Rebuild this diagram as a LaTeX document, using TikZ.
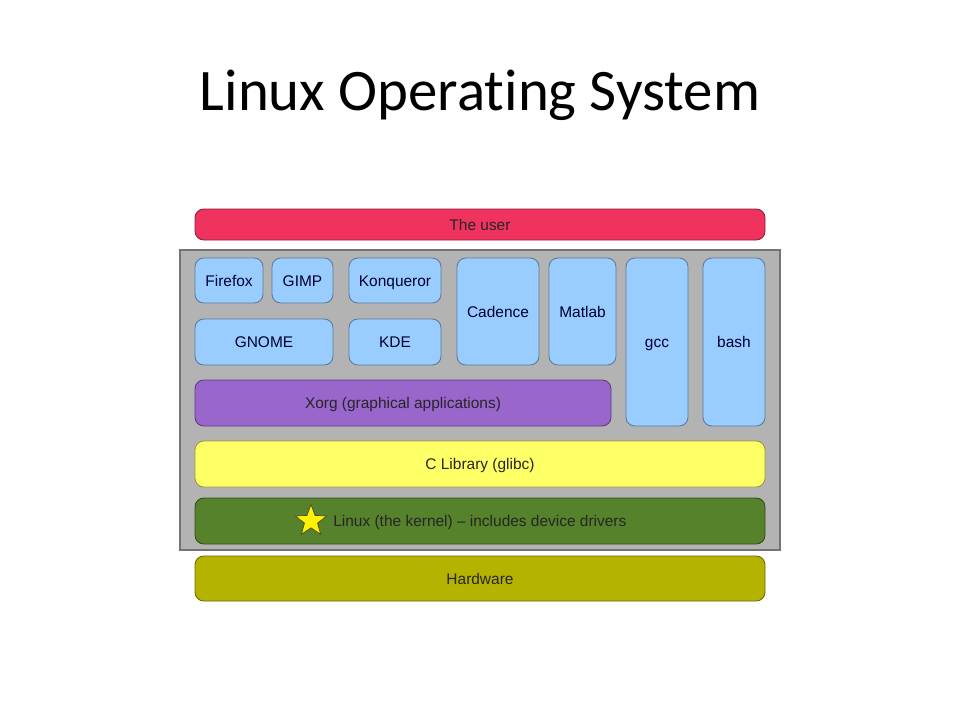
\documentclass[tikz,border=0pt]{standalone}
\usepackage{fontspec}
\setmainfont{Liberation Sans}
\newfontfamily\titlefont[RawFeature=-liga]{Carlito}
\usetikzlibrary{shapes.geometric}
\definecolor{userred}{HTML}{F0325E}
\definecolor{appblue}{HTML}{99CCFF}
\definecolor{xpurple}{HTML}{9966CC}
\definecolor{libyellow}{HTML}{FFFF66}
\definecolor{kerngreen}{HTML}{55822A}
\definecolor{hwolive}{HTML}{B3B300}
\definecolor{panelgray}{HTML}{B3B3B3}
\tikzset{
  layer/.style={draw=#1!60!black, fill=#1, rounded corners=5pt, inner sep=0pt, line width=0.5pt,
    font=\fontsize{8.8}{10}\selectfont, text=black!85, text height=7.6pt, text depth=1.3pt},
  app/.style={layer=appblue, text=black!80!blue},
  size/.style 2 args={minimum width=#1*0.02cm, minimum height=#2*0.02cm},
}

\begin{document}
\begin{tikzpicture}[x=0.02cm, y=-0.02cm]
		%%%%% START %%%%%
		\useasboundingbox[fill=white] (0,0) rectangle (960,720);
		\node[font=\titlefont\fontsize{33.5}{40}\selectfont] (title) at (480,95) {Linux Operating System};
		
		\node[layer=userred, size={570}{31}] (user) at (480,224.5) {The user};
		
		\draw[draw=black!55, fill=panelgray, line width=0.6pt] (180,250) rectangle (780,550);
		
		\node[app, size={68}{45}] (firefox) at (229,280.5) {Firefox};
		\node[app, size={61}{45}] (gimp) at (302.5,280.5) {GIMP};
		\node[app, size={92}{45}] (konqueror) at (395,280.5) {Konqueror};
		\node[app, size={138}{46}] (gnome) at (264,342) {GNOME};
		\node[app, size={92}{46}] (kde) at (395,342) {KDE};
		\node[app, size={82}{107}] (cadence) at (498,311.5) {Cadence};
		\node[app, size={67}{107}] (matlab) at (582.5,311.5) {Matlab};
		\node[app, size={62}{168}] (gcc) at (657,342) {gcc};
		\node[app, size={62}{168}] (bash) at (734,342) {bash};
		
		\node[layer=xpurple, size={416}{46}] (xorg) at (403,403) {Xorg (graphical applications)};
		\node[layer=libyellow, size={570}{46}] (glibc) at (480,464) {C Library (glibc)};
		\node[layer=kerngreen, size={570}{46}] (kernel) at (480,521) {};
		\node[font=\fontsize{8.8}{10}\selectfont, text=black!85, anchor=west, inner sep=0pt,
		  text height=7.6pt, text depth=1.3pt] (kerneltext) at (333,521) {Linux (the kernel) -- includes device drivers};
		\node[star, star points=5, star point ratio=2.4, minimum size=0.66cm, inner sep=0pt,
		  fill=yellow, draw=black!60!olive, line width=0.4pt] (star) at (311,521) {};
		
		\node[layer=hwolive, size={570}{45}] (hardware) at (480,578.5) {Hardware};
		%%%%% END %%%%%
	\end{tikzpicture}
\end{document}
